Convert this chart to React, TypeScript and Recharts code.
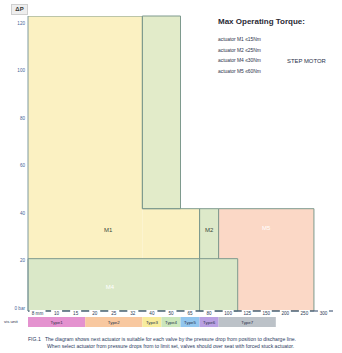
import React from "react";
import {
  ComposedChart,
  XAxis,
  YAxis,
  ReferenceArea,
  Line,
  Scatter,
  BarChart,
  Bar,
  LabelList,
} from "recharts";

// ---- data ----
const xLabels = ["8 mm", "10", "15", "20", "25", "32", "40", "50", "65", "80", "100", "125", "150", "200", "250", "300"];
const yTicks = [0, 20, 40, 60, 80, 100, 120];

// regions: [yellow tall, yellow low, green tall, M2, salmon, low green]
const regionX1 = [0, 6, 6, 9, 10, 0];
const regionX2 = [6, 9, 8, 10, 15, 11];
const regionY1 = [0, 0, 43, 0, 0, 0];
const regionY2 = [124, 43, 124, 43, 43, 22];

const labelNames = ["M1", "M2", "M5", "M4"];
const labelX = [4.2, 9.5, 12.5, 4.3];
const labelY = [34, 34, 35, 10];

const typeNames = ["Type1", "Type2", "Type3", "Type4", "Type5", "Type6", "Type7"];
const typeSpans = [3, 3, 1, 1, 1, 1, 3];

const torqueLines = ["actuator M1 \u226415Nm", "actuator M2 \u226425Nm", "actuator M4 \u226430Nm", "actuator M5 \u226460Nm"];

// ---- styles ----
const regionFill = ["#FBF1C2", "#FBF1C2", "#E2EBC9", "#DDE9C9", "#FBD8C6", "#DAE8C8"];
const regionStroke = ["none", "none", "#7E9A8E", "#7E9A8E", "#7E9A8E", "#7E9A8E"];
const labelColor = ["#3a4a3a", "#3a4a3a", "#ffffff", "#ffffff"];
const typeColors = ["#E492CF", "#F8C8A0", "#F7EC9C", "#CBE6BC", "#92C6EE", "#B9A0E2", "#BCC2C8"];

const FONT = "'Liberation Sans', Arial, sans-serif";

const outline = [
  { x: regionX1[0], y: regionY2[0] },
  { x: regionX2[0], y: regionY2[0] },
  { x: regionX2[0], y: regionY2[1] },
  { x: regionX2[1], y: regionY2[1] },
  { x: regionX2[1], y: regionY1[1] },
];

const labelData = labelNames.map((n, i) => ({ name: n, x: labelX[i], y: labelY[i], color: labelColor[i] }));
const xTicks = xLabels.map((_, i) => i + 0.5);

const typeRow: Record<string, any> = { row: "r" };
typeNames.forEach((n, i) => (typeRow[n] = typeSpans[i]));

const XTick = (props: any) => {
  const { x, y, payload } = props;
  const label = xLabels[Math.round(payload.value - 0.5)];
  const w = label.length > 3 ? 16 : 11;
  return (
    <g>
      <rect x={x - w / 2} y={y - 1} width={w} height={6} fill="#ffffff" />
      <text x={x} y={y + 3.8} textAnchor="middle" fontSize={4.6} fontFamily={FONT} fill="#2a3a55">
        {label}
      </text>
    </g>
  );
};

const YTick = (props: any) => {
  const { x, y, payload } = props;
  const label = payload.value === 0 ? "0 bar" : String(payload.value);
  return (
    <text x={x} y={y - 1} textAnchor="end" fontSize={4.6} fontFamily={FONT} fill="#3f5f98">
      {label}
    </text>
  );
};

const LabelShape = (props: any) => {
  const { cx, cy, payload } = props;
  return (
    <text x={cx} y={cy + 2} textAnchor="middle" fontSize={6} fontFamily={FONT} fill={payload.color}>
      {payload.name}
    </text>
  );
};

export default function App() {
  return (
    <div style={{ position: "absolute", left: 0, top: 0, width: 342, height: 353, background: "#fff", fontFamily: FONT }}>
      <div style={{ position: "absolute", left: 0, top: 0 }}>
        <ComposedChart width={342} height={330} margin={{ top: 16, right: 9, left: 0, bottom: 0 }} data={outline}>
          <XAxis
            type="number"
            dataKey="x"
            domain={[0, 16]}
            ticks={xTicks}
            interval={0}
            allowDataOverflow
            tick={<XTick />}
            tickLine={false}
            tickSize={0}
            tickMargin={0}
            height={19}
            axisLine={{ stroke: "#2c4468", strokeWidth: 1 }}
          />
          <YAxis
            type="number"
            domain={[0, 124]}
            ticks={yTicks}
            interval={0}
            allowDataOverflow
            width={28}
            tick={<YTick />}
            tickLine={false}
            tickSize={2}
            tickMargin={1}
            axisLine={{ stroke: "#7E9AA0", strokeWidth: 1 }}
          />
          {regionX1.map((x1, i) => (
            <ReferenceArea
              key={i}
              x1={x1}
              x2={regionX2[i]}
              y1={regionY1[i]}
              y2={regionY2[i]}
              fill={regionFill[i]}
              fillOpacity={1}
              stroke={regionStroke[i]}
              strokeWidth={1}
              ifOverflow="visible"
            />
          ))}
          <Line
            data={outline}
            dataKey="y"
            type="linear"
            dot={false}
            activeDot={false}
            stroke="#7E9A8E"
            strokeWidth={1}
            isAnimationActive={false}
          />
          <Scatter data={labelData} dataKey="y" shape={<LabelShape />} isAnimationActive={false} />
        </ComposedChart>
      </div>

      {/* ΔP box */}
      <div
        style={{
          position: "absolute",
          left: 11,
          top: 4,
          width: 15,
          height: 9,
          background: "#eeeeee",
          border: "1px solid #cfcfcf",
          fontSize: 6,
          fontWeight: "bold",
          color: "#333",
          lineHeight: "9px",
          textAlign: "center",
        }}
      >
        ΔP
      </div>

      {/* torque legend */}
      <div style={{ position: "absolute", left: 218, top: 16.5, fontSize: 8, fontWeight: "bold", color: "#2a2a35", whiteSpace: "nowrap" }}>
        Max Operating Torque:
      </div>
      {torqueLines.map((t, i) => (
        <div
          key={t}
          style={{ position: "absolute", left: 218, top: 37 + i * 10.6, fontSize: 4.9, color: "#2a3048", whiteSpace: "nowrap" }}
        >
          {t}
        </div>
      ))}
      <div style={{ position: "absolute", left: 287, top: 58, fontSize: 5.9, color: "#2a3048", whiteSpace: "nowrap" }}>
        STEP MOTOR
      </div>

      {/* type row */}
      <div style={{ position: "absolute", left: 4, top: 319, fontSize: 4.4, color: "#2a3048", whiteSpace: "nowrap" }}>vis unit</div>
      <div style={{ position: "absolute", left: 0, top: 317 }}>
        <BarChart
          width={342}
          height={10}
          layout="vertical"
          data={[typeRow]}
          margin={{ top: 0, right: 9, left: 28, bottom: 0 }}
          barCategoryGap={0}
        >
          <XAxis type="number" domain={[0, 16]} hide allowDataOverflow />
          <YAxis type="category" dataKey="row" hide />
          {typeNames.map((n, i) => (
            <Bar key={n} dataKey={n} stackId="t" fill={typeColors[i]} isAnimationActive={false}>
              <LabelList
                position="center"
                content={(p: any) => (
                  <text
                    x={p.x + p.width / 2}
                    y={p.y + p.height / 2 + 1.5}
                    textAnchor="middle"
                    fontSize={4.4}
                    fontFamily={FONT}
                    fill="#2a3048"
                  >
                    {n}
                  </text>
                )}
              />
            </Bar>
          ))}
        </BarChart>
      </div>

      {/* footnote */}
      <div style={{ position: "absolute", left: 28, top: 336, fontSize: 5.1, color: "#2a3a60", whiteSpace: "nowrap", lineHeight: "6px" }}>
        FIG.1&nbsp;&nbsp; The diagram shows next actuator is suitable for each valve by the pressure drop from position to discharge line.
      </div>
      <div style={{ position: "absolute", left: 47, top: 343, fontSize: 5.1, color: "#2a3a60", whiteSpace: "nowrap", lineHeight: "6px" }}>
        When select actuator from pressure drops from to limit set, valves should over seat with forced stuck actuator.
      </div>
    </div>
  );
}
